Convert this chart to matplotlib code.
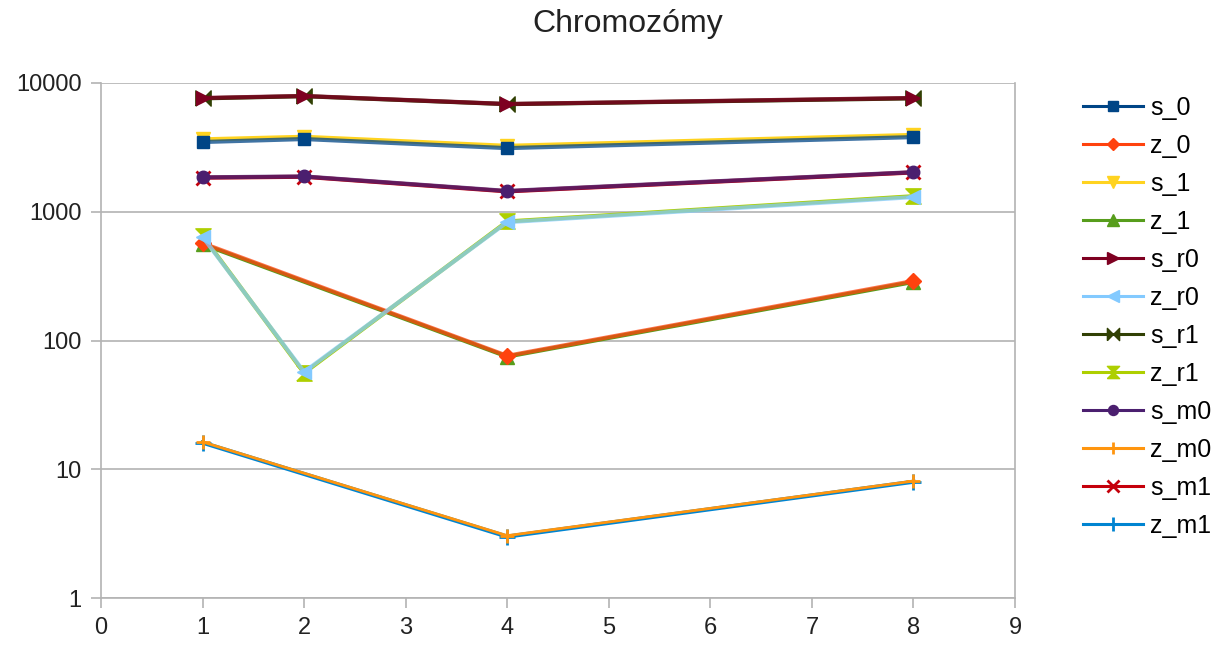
import matplotlib
matplotlib.use('Agg')
import matplotlib.pyplot as plt
from matplotlib.colors import to_rgba

plt.rcParams['font.family'] = ['Liberation Sans', 'DejaVu Sans']

# x positions of the measurements
x_all = [1, 2, 4, 8]
x_nomid = [1, 4, 8]

# series values
s_0 = [3480, 3670, 3120, 3800]
z_0 = [570, 76, 290]
s_1 = [3650, 3820, 3250, 3950]
z_1 = [560, 75, 285]
s_r0 = [7650, 7930, 6870, 7650]
z_r0 = [640, 57, 830, 1300]
s_r1 = [7600, 7900, 6850, 7600]
z_r1 = [650, 56, 840, 1320]
s_m0 = [1850, 1880, 1450, 2030]
z_m0 = [16.3, 3.05, 8.1]
s_m1 = [1840, 1870, 1440, 2020]
z_m1 = [16.1, 3.0, 8.0]

gray = '#b3b3b3'

# custom markers (bowtie and hourglass like LibreOffice)
bowtie = [(-1, -1), (-1, 1), (1, -1), (1, 1), (-1, -1)]
hourglass = [(-1, -1), (1, -1), (-1, 1), (1, 1), (-1, -1)]

# name, x, y, colour, marker, marker size, zorder, line alpha
series = [
    ('s_0', x_all, s_0, '#004586', 's', 9, 6, 0.75),
    ('z_0', x_nomid, z_0, '#ff420e', 'D', 8, 6, 0.75),
    ('s_1', x_all, s_1, '#ffd320', 'v', 10, 4, 1),
    ('z_1', x_nomid, z_1, '#579d1c', '^', 10, 4, 1),
    ('s_r0', x_all, s_r0, '#7e0021', '>', 10, 6, 0.8),
    ('z_r0', x_all, z_r0, '#83caff', '<', 10, 6, 0.75),
    ('s_r1', x_all, s_r1, '#314004', bowtie, 11, 4, 1),
    ('z_r1', x_all, z_r1, '#aecf00', hourglass, 11, 4, 1),
    ('s_m0', x_all, s_m0, '#4b1f6f', 'o', 9, 6, 0.8),
    ('z_m0', x_nomid, z_m0, '#ff950e', '+', 10, 6, 1),
    ('s_m1', x_all, s_m1, '#c5000b', 'x', 10, 4, 1),
    ('z_m1', x_nomid, z_m1, '#0084d1', '+', 12, 4, 1),
]

fig = plt.figure(figsize=(12.15, 6.54), dpi=100)
ax = fig.add_axes([0.0831, 0.0856, 0.7523, 0.7875])

lines = []
for name, xs, ys, col, mk, ms, zo, a in series:
    lw = 3
    if name == 'z_m0':
        lw = 2
    ln, = ax.plot(xs, ys, color=to_rgba(col, a), lw=lw, marker=mk, markersize=ms,
                  markeredgewidth=2 if mk in ('+', 'x') else 1,
                  markerfacecolor=col, markeredgecolor=col, label=name, zorder=zo)
    lines.append(ln)

ax.set_yscale('log')
ax.set_ylim(1, 10000)
ax.set_xlim(0, 9)
ax.set_xticks(range(0, 10))
ax.set_yticks([1, 10, 100, 1000, 10000])
ax.set_yticklabels(['1', '10', '100', '1000', '10000'])
ax.minorticks_off()
ax.yaxis.grid(True, color=gray, lw=1.2)
ax.set_axisbelow(True)
for sp in ax.spines.values():
    sp.set_color(gray)
    sp.set_linewidth(1.2)
ax.spines['top'].set_visible(False)
ax.tick_params(colors=gray, labelcolor='#222222', labelsize=17, length=7, width=1.2, pad=7)

fig.text(0.5165, 0.951, 'Chromozómy', ha='center', va='baseline', fontsize=23, color='#222222')

leg = fig.legend(handles=lines, loc='upper left', bbox_to_anchor=(0.883, 0.869),
                 frameon=False, fontsize=18, labelspacing=0.56, handlelength=2.4,
                 handletextpad=0.28, borderaxespad=0, markerscale=0.8)
for l in leg.get_lines():
    l.set_linewidth(2.2)
    c = l.get_markerfacecolor()
    l.set_color(c)

fig.savefig('out.png', dpi=100)
